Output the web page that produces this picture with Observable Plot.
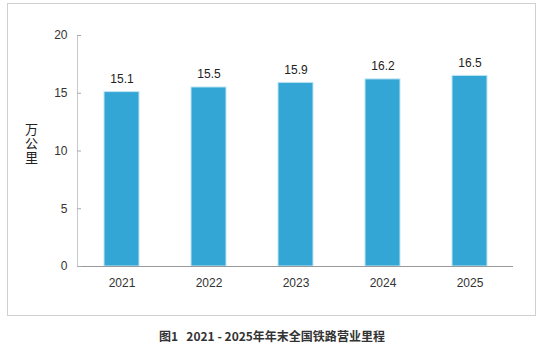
<!DOCTYPE html>
<html>
<head>
<meta charset="utf-8">
<script src="https://cdn.jsdelivr.net/npm/d3@7"></script>
<script src="https://cdn.jsdelivr.net/npm/@observablehq/plot@0.6"></script>
<style>
  html, body { margin: 0; padding: 0; background: #fff; }
  #wrap { position: relative; width: 540px; height: 350px; font-family: "Liberation Sans", Arial, sans-serif; }
  #box { position: absolute; left: 7px; top: 3px; width: 529px; height: 313px; border: 1px solid #d0d0d0; box-sizing: border-box; }
  #chart { position: absolute; left: 0; top: 0; }
  #unit { position: absolute; left: 24px; top: 123px; writing-mode: vertical-rl; text-orientation: upright; letter-spacing: 1px; font-family: "Noto Sans CJK SC", sans-serif; font-size: 13px; line-height: 14px; color: #222; }
  #caption { position: absolute; left: 0; top: 327px; width: 544px; text-align: center; font-family: "Noto Sans CJK SC", sans-serif; font-weight: bold; font-size: 12px; color: #333; white-space: pre; }
</style>
</head>
<body>
<div id="wrap">
  <div id="box"></div>
  <div id="chart"></div>
  <div id="unit">万公里</div>
  <div id="caption">图1   2021 - 2025年年末全国铁路营业里程</div>
</div>
<script>
// Year-end national railway operating mileage (10,000 km)
const years = ["2021", "2022", "2023", "2024", "2025"];
const mileage = [15.1, 15.5, 15.9, 16.2, 16.5];
const yTicks = [0, 5, 10, 15, 20];

const rows = years.map((year, i) => ({year, value: mileage[i]}));

const chart = Plot.plot({
  width: 540,
  height: 320,
  marginLeft: 77,
  marginRight: 27,
  marginTop: 35,
  marginBottom: 54,
  style: {fontFamily: "Liberation Sans, Arial, sans-serif", fontSize: "12px", color: "#333", background: "transparent"},
  x: {domain: years, paddingInner: 0.6, paddingOuter: 0.3, label: null},
  y: {domain: [0, 20], label: null},
  marks: [
    Plot.frame({anchor: "left", stroke: "#c8c8c8"}),
    Plot.barY(rows, {x: "year", y: "value", fill: "#34a6d6", stroke: "#bfe6f3", strokeWidth: 1}),
    Plot.ruleY([0], {stroke: "#9a9a9a"}),
    Plot.axisY({ticks: yTicks, tickSize: -4, tickPadding: 14, stroke: "#aaa", fill: "#333", fontSize: 12}),
    Plot.axisX({tickSize: 0, tickPadding: 12, fill: "#333", fontSize: 12}),
    Plot.text(rows, {x: "year", y: "value", text: d => d.value.toFixed(1), dy: -13, fill: "#222", fontSize: 12})
  ]
});
document.getElementById("chart").appendChild(chart);
</script>
</body>
</html>
